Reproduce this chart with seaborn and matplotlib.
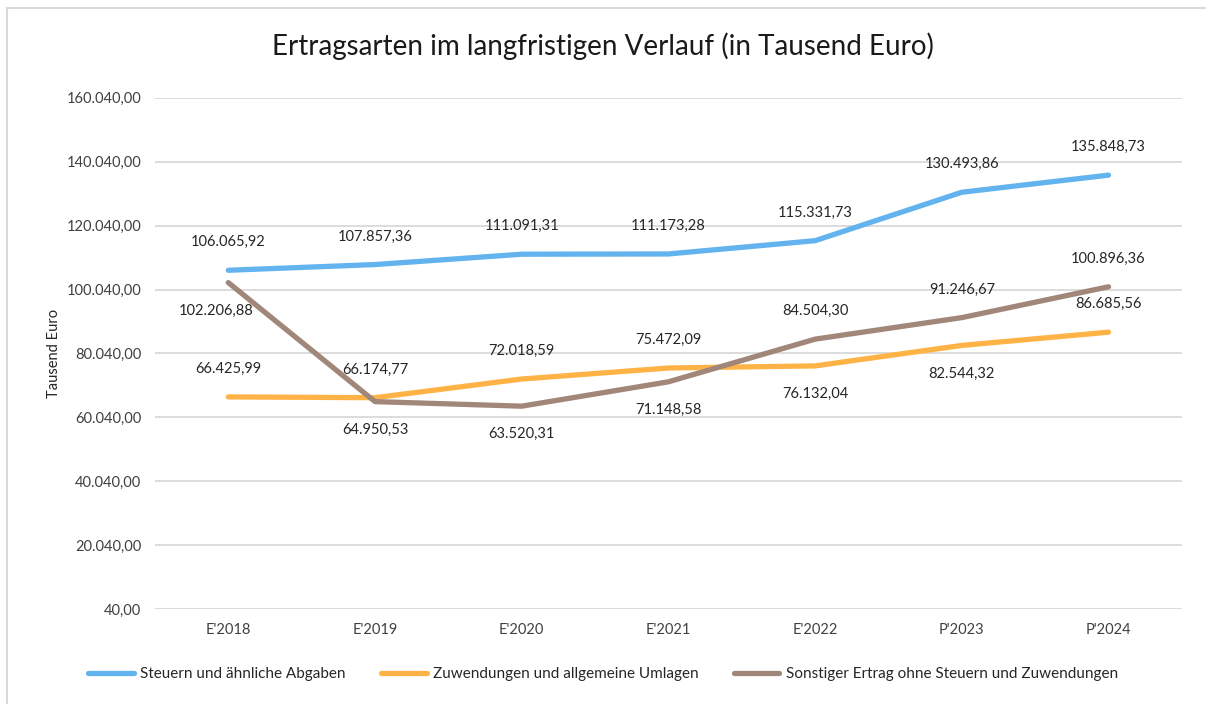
import numpy as np
import pandas as pd
import matplotlib
matplotlib.use("Agg")
import matplotlib.pyplot as plt
import seaborn as sns

# Daten (Tausend Euro)
jahre = ["E'2018", "E'2019", "E'2020", "E'2021", "E'2022", "P'2023", "P'2024"]
steuern = [106065.92, 107857.36, 111091.31, 111173.28, 115331.73, 130493.86, 135848.73]
zuwendungen = [66425.99, 66174.77, 72018.59, 75472.09, 76132.04, 82544.32, 86685.56]
sonstiger = [102206.88, 64950.53, 63520.31, 71148.58, 84504.30, 91246.67, 100896.36]
serien = ["Steuern und ähnliche Abgaben",
          "Zuwendungen und allgemeine Umlagen",
          "Sonstiger Ertrag ohne Steuern und Zuwendungen"]
y_ticks = [40 + 20000 * k for k in range(9)]

df = pd.DataFrame({"Jahr": jahre * 3,
                   "x": list(range(len(jahre))) * 3,
                   "Wert": steuern + zuwendungen + sonstiger,
                   "Serie": [serien[0]] * 7 + [serien[1]] * 7 + [serien[2]] * 7})

farben = ["#63B3EE", "#FFB347", "#A0877A"]

# Lage der Datenbeschriftungen (+1 = oben, -1 = unten)
seite = {serien[0]: [1, 1, 1, 1, 1, 1, 1],
         serien[1]: [1, 1, 1, 1, -1, -1, 1],
         serien[2]: [-1, -1, -1, -1, 1, 1, 1]}


def de_format(v):
    return f"{v:,.2f}".replace(",", "X").replace(".", ",").replace("X", ".")


sns.set_theme(style="white")
plt.rcParams["font.family"] = ["Lato", "DejaVu Sans"]

fig = plt.figure(figsize=(12.06, 7.04), dpi=100)
ax = fig.add_axes([0.1285, 0.135, 0.8515, 0.726])

sns.lineplot(data=df, x="x", y="Wert", hue="Serie", palette=farben,
             linewidth=3.8, ax=ax, legend=True, solid_capstyle="round")

for s, c in zip(serien, farben):
    vals = df[df["Serie"] == s]["Wert"].tolist()
    for i, v in enumerate(vals):
        dy = 28 if seite[s][i] > 0 else -28
        dx = -12 if (s == serien[2] and i == 0) else 0
        ax.annotate(de_format(v), (i, v), xytext=(dx, dy), textcoords="offset pixels",
                    ha="center", va="center", fontsize=10.5, color="#262626")

ax.set_xlim(-0.5, len(jahre) - 0.5)
ax.set_ylim(y_ticks[0], y_ticks[-1])
ax.set_xticks(range(len(jahre)))
ax.set_xticklabels(jahre, fontsize=10.5, color="#404040")
ax.set_yticks(y_ticks)
ax.set_yticklabels([de_format(t) for t in y_ticks], fontsize=10.5, color="#404040")
ax.tick_params(axis="both", length=0, pad=10)
ax.grid(axis="y", color="#D9D9D9", linewidth=1.3)
for sp in ax.spines.values():
    sp.set_visible(False)
ax.set_xlabel("")
ax.set_ylabel("Tausend Euro", fontsize=10.5, color="#262626", labelpad=4)

fig.text(0.5, 0.935, "Ertragsarten im langfristigen Verlauf (in Tausend Euro)",
         ha="center", va="center", fontsize=20, color="#1a1a1a")

handles, labels = ax.get_legend_handles_labels()
ax.legend(handles, labels, loc="center", ncol=3, frameon=False, fontsize=11,
          handlelength=3.0, columnspacing=2.3, handletextpad=0.4)
for lh in ax.get_legend().get_lines():
    lh.set_linewidth(3.8)
ax.get_legend().set_bbox_to_anchor((0.5, 0.042), transform=fig.transFigure)

# Rahmen um das Diagramm
fig.patches.append(plt.Rectangle((0.006, -0.01), 0.999, 0.998, transform=fig.transFigure,
                                 fill=False, edgecolor="#D9D9D9", linewidth=1.5))

fig.savefig("out.png", dpi=100)
